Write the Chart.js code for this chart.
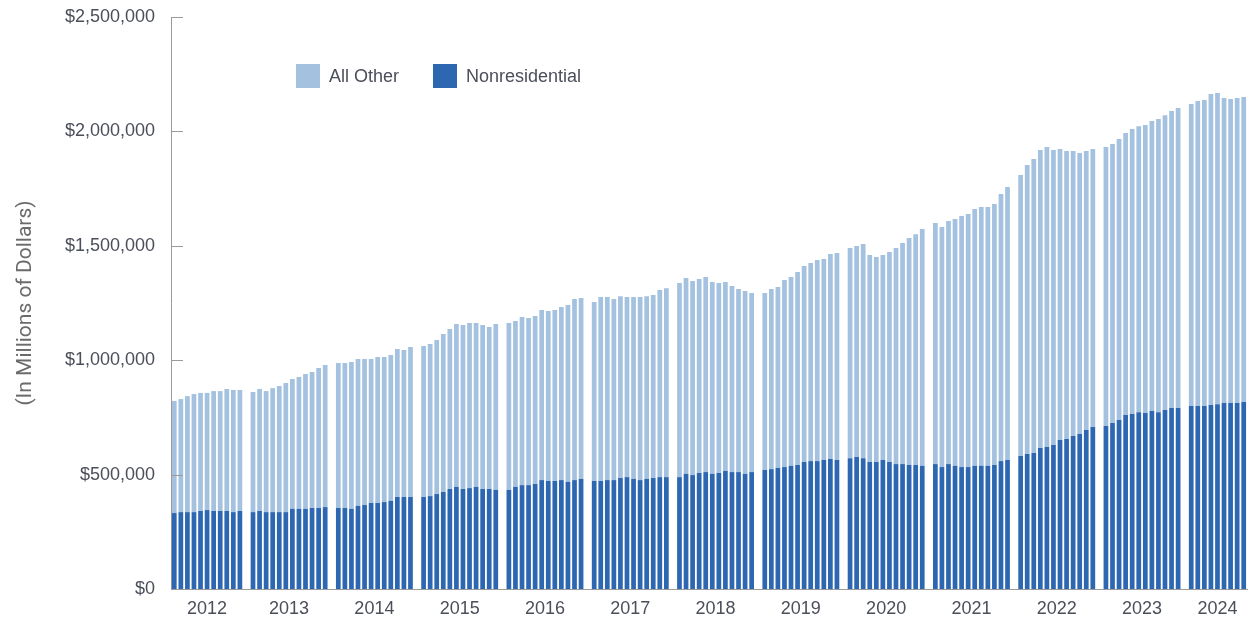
<!DOCTYPE html>
<html>
<head>
<meta charset="utf-8">
<script src="https://cdn.jsdelivr.net/npm/chart.js@4.4.1/dist/chart.umd.min.js"></script>
<style>
  html, body { margin: 0; padding: 0; background: #fff; }
  #wrap { position: relative; width: 1249px; height: 622px; }
  #legend { position: absolute; left: 296px; top: 64px; display: flex; font: 18px "Liberation Sans", Arial, sans-serif; color: #4b4f5a; }
  #legend .item { display: flex; align-items: center; margin-right: 34px; height: 24px; }
  #legend .box { width: 24px; height: 24px; margin-right: 9px; }
</style>
</head>
<body>
<div id="wrap">
  <canvas id="chart" width="1249" height="622"></canvas>
  <div id="legend"></div>
</div>
<script>
// monthly values, in millions of dollars (2012 starts in February, 2024 ends in September)
var years = ['2012', '2013', '2014', '2015', '2016', '2017', '2018', '2019', '2020', '2021', '2022', '2023', '2024'];

var nonresidential = [
    [332000, 336000, 336000, 336000, 341000, 345000, 341000, 341000, 341000, 336000, 341000],
    [336000, 341000, 336000, 336000, 336000, 336000, 350000, 350000, 350000, 354000, 354000, 358000],
    [354000, 354000, 350000, 363000, 367000, 376000, 376000, 380000, 385000, 402000, 402000, 402000],
    [402000, 406000, 415000, 424000, 437000, 446000, 437000, 441000, 446000, 437000, 437000, 433000],
    [433000, 446000, 454000, 454000, 459000, 476000, 472000, 472000, 476000, 468000, 476000, 481000],
    [472000, 472000, 476000, 476000, 485000, 489000, 481000, 476000, 481000, 485000, 489000, 489000],
    [489000, 503000, 498000, 507000, 511000, 503000, 507000, 516000, 511000, 511000, 503000, 511000],
    [520000, 524000, 529000, 533000, 538000, 542000, 555000, 559000, 559000, 564000, 568000, 564000],
    [572000, 577000, 572000, 555000, 555000, 564000, 555000, 546000, 546000, 542000, 542000, 538000],
    [546000, 533000, 546000, 538000, 533000, 533000, 538000, 538000, 538000, 542000, 559000, 564000],
    [581000, 590000, 594000, 616000, 621000, 629000, 651000, 656000, 669000, 677000, 695000, 708000],
    [712000, 725000, 739000, 760000, 765000, 773000, 769000, 778000, 773000, 782000, 791000, 791000],
    [800000, 800000, 800000, 804000, 808000, 813000, 813000, 813000, 817000]
];

// total height of each bar (nonresidential + all other)
var totalSpending = [
    [822000, 830000, 843000, 852000, 857000, 857000, 865000, 865000, 874000, 870000, 870000],
    [861000, 874000, 865000, 878000, 887000, 900000, 918000, 927000, 940000, 948000, 966000, 979000],
    [988000, 988000, 992000, 1005000, 1005000, 1005000, 1014000, 1014000, 1023000, 1049000, 1045000, 1058000],
    [1062000, 1071000, 1088000, 1115000, 1136000, 1158000, 1154000, 1163000, 1163000, 1154000, 1145000, 1158000],
    [1163000, 1171000, 1189000, 1184000, 1193000, 1219000, 1215000, 1219000, 1232000, 1241000, 1267000, 1272000],
    [1254000, 1276000, 1276000, 1267000, 1280000, 1276000, 1276000, 1276000, 1280000, 1285000, 1307000, 1315000],
    [1337000, 1359000, 1346000, 1355000, 1364000, 1342000, 1337000, 1342000, 1324000, 1311000, 1302000, 1294000],
    [1294000, 1311000, 1320000, 1350000, 1364000, 1385000, 1412000, 1425000, 1438000, 1442000, 1464000, 1469000],
    [1490000, 1499000, 1508000, 1460000, 1451000, 1460000, 1473000, 1490000, 1512000, 1534000, 1551000, 1573000],
    [1600000, 1582000, 1608000, 1617000, 1630000, 1639000, 1661000, 1670000, 1670000, 1683000, 1726000, 1757000],
    [1809000, 1853000, 1879000, 1919000, 1932000, 1919000, 1923000, 1914000, 1914000, 1906000, 1914000, 1923000],
    [1932000, 1945000, 1967000, 1993000, 2010000, 2023000, 2028000, 2045000, 2054000, 2071000, 2089000, 2102000],
    [2120000, 2133000, 2137000, 2163000, 2168000, 2146000, 2142000, 2146000, 2150000]
];

var yTickValues = [0, 500000, 1000000, 1500000, 2000000, 2500000];

var labelFont = { family: '"Liberation Sans", Arial, sans-serif', size: 18 };
var textColor = '#4b4f5a';
var axisColor = '#9b9b9b';

// lay the months out on slots, one empty slot between years
var nonresPoints = [];
var otherPoints = [];
var yearCenters = [];
var slot = 0;
years.forEach(function(yr, i) {
    var start = slot;
    nonresidential[i].forEach(function(v, m) {
        nonresPoints.push({ x: slot, y: v });
        otherPoints.push({ x: slot, y: totalSpending[i][m] - v });
        slot++;
    });
    yearCenters.push((start + slot - 1) / 2);
    slot++;
});
var lastSlot = slot - 2;

// short tick marks pointing into the plot, like the original
var innerTicks = {
    id: 'innerTicks',
    afterDatasetsDraw: function(chart) {
        var ctx = chart.ctx;
        var y = chart.scales.y;
        var left = chart.chartArea.left;
        ctx.save();
        ctx.strokeStyle = axisColor;
        ctx.lineWidth = 1;
        y.ticks.forEach(function(t) {
            var py = Math.round(y.getPixelForValue(t.value)) + 0.5;
            ctx.beginPath();
            ctx.moveTo(left, py);
            ctx.lineTo(left + 12, py);
            ctx.stroke();
        });
        ctx.restore();
    }
};

var chart = new Chart(document.getElementById('chart'), {
    type: 'bar',
    data: {
        datasets: [{
            label: 'Nonresidential',
            data: nonresPoints,
            backgroundColor: '#2e67b1',
            borderWidth: 0
        }, {
            label: 'All Other',
            data: otherPoints,
            backgroundColor: '#a4c2df',
            borderWidth: 0
        }]
    },
    options: {
        responsive: false,
        devicePixelRatio: 1,
        animation: false,
        categoryPercentage: 1,
        barPercentage: 0.72,
        layout: { padding: { top: 17, right: 2, left: 0, bottom: 0 } },
        plugins: {
            legend: { display: false },
            tooltip: { enabled: false }
        },
        scales: {
            x: {
                type: 'linear',
                stacked: true,
                offset: false,
                min: -0.5,
                max: lastSlot + 0.5,
                grid: { display: false, drawTicks: false, offset: false },
                border: { display: true, color: axisColor, width: 1 },
                afterBuildTicks: function(scale) {
                    scale.ticks = yearCenters.map(function(v) { return { value: v }; });
                },
                afterFit: function(scale) { scale.height = 33; },
                ticks: {
                    autoSkip: false,
                    maxRotation: 0,
                    padding: 9,
                    font: labelFont,
                    color: textColor,
                    callback: function(value, index) { return years[index]; }
                }
            },
            y: {
                stacked: true,
                min: 0,
                max: 2500000,
                grid: { display: false, drawTicks: false },
                border: { display: true, color: axisColor, width: 1 },
                afterBuildTicks: function(scale) {
                    scale.ticks = yTickValues.map(function(v) { return { value: v }; });
                },
                afterFit: function(scale) {
                    scale.width = 171;
                    scale.paddingTop = 0;
                    scale.paddingBottom = 0;
                },
                ticks: {
                    padding: 16,
                    font: labelFont,
                    color: textColor,
                    callback: function(value) { return '$' + value.toLocaleString('en-US'); }
                },
                title: {
                    display: true,
                    text: '(In Millions of Dollars)',
                    color: '#6b6b6b',
                    font: { family: '"Liberation Sans Narrow", Roboto, sans-serif', size: 21, lineHeight: 1.2 },
                    padding: { top: 13, bottom: 0 }
                }
            }
        }
    },
    plugins: [innerTicks]
});

// legend: All Other first, as in the original
var legendEl = document.getElementById('legend');
chart.data.datasets.slice().reverse().forEach(function(ds) {
    var item = document.createElement('div');
    item.className = 'item';
    var box = document.createElement('span');
    box.className = 'box';
    box.style.background = ds.backgroundColor;
    var txt = document.createElement('span');
    txt.textContent = ds.label;
    item.appendChild(box);
    item.appendChild(txt);
    legendEl.appendChild(item);
});
</script>
</body>
</html>
